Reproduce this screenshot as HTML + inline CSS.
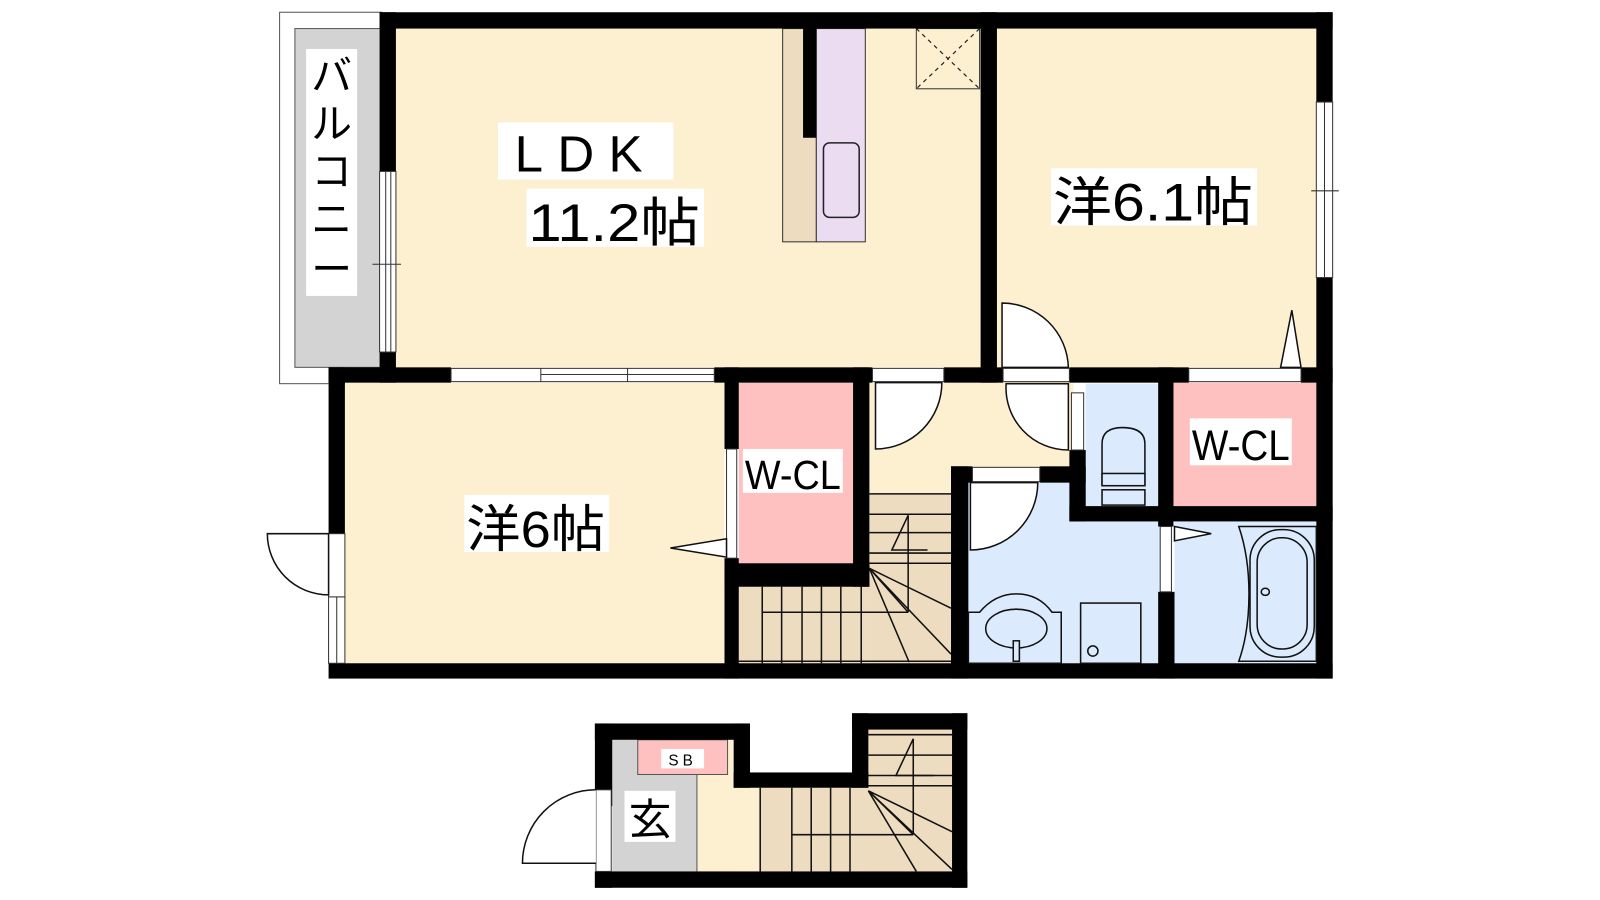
<!DOCTYPE html>
<html><head><meta charset="utf-8"><style>
html,body{margin:0;padding:0;background:#fff;}
svg{display:block;}
text{font-family:"Liberation Sans","Noto Sans CJK JP",sans-serif;}
</style></head><body>
<svg width="1600" height="900" viewBox="0 0 1568 882" xmlns="http://www.w3.org/2000/svg">
<rect x="274" y="12" width="100" height="364" fill="#fff" stroke="#555" stroke-width="1"/>
<rect x="289" y="28" width="85" height="332" fill="#d3d3d3" stroke="#555" stroke-width="1"/>
<rect x="388" y="28" width="573" height="332" fill="#fdf0d0"/>
<rect x="977" y="28" width="313" height="332" fill="#fdf0d0"/>
<rect x="338" y="375" width="372" height="275" fill="#fdf0d0"/>
<rect x="852" y="375" width="196" height="110" fill="#fdf0d0"/>
<rect x="977" y="360" width="75" height="100" fill="#fdf0d0"/>
<rect x="724" y="375" width="112" height="177" fill="#ffc0c0"/>
<rect x="1150" y="375" width="140" height="121" fill="#ffc0c0"/>
<rect x="1064" y="376" width="71" height="120" fill="#dbeafd"/>
<rect x="949" y="473" width="186" height="177" fill="#dbeafd"/>
<rect x="1048" y="511" width="90" height="139" fill="#dbeafd"/>
<rect x="1151" y="511" width="139" height="139" fill="#dbeafd"/>
<rect x="852" y="484" width="80" height="166" fill="#eedcc0"/>
<rect x="724" y="573" width="128" height="77" fill="#eedcc0"/>
<g stroke="#111" stroke-width="1.5" fill="none">
<line x1="852" y1="484" x2="932" y2="484"/>
<line x1="852" y1="504" x2="932" y2="504"/>
<line x1="852" y1="522" x2="932" y2="522"/>
<line x1="852" y1="542" x2="932" y2="542"/>
<line x1="852" y1="552" x2="932" y2="552"/>
<line x1="852" y1="557" x2="932" y2="596"/>
<line x1="852" y1="557" x2="932" y2="641"/>
<line x1="852" y1="557" x2="891" y2="649"/>
<line x1="852" y1="557" x2="890" y2="600"/>
<line x1="890" y1="505" x2="890" y2="600"/>
<line x1="747" y1="600" x2="890" y2="600"/>
<polyline points="890,505 874,539 909,539"/>
<line x1="747" y1="575" x2="747" y2="650"/>
<line x1="766" y1="575" x2="766" y2="650"/>
<line x1="786" y1="575" x2="786" y2="650"/>
<line x1="805" y1="575" x2="805" y2="650"/>
<line x1="824" y1="575" x2="824" y2="650"/>
<line x1="844" y1="575" x2="844" y2="650"/>
<line x1="724" y1="648" x2="932" y2="648"/>
</g>
<rect x="767" y="28" width="33" height="209" fill="#eedcc0" stroke="#333" stroke-width="1"/>
<rect x="800" y="28" width="48" height="209" fill="#ecdcf2" stroke="#333" stroke-width="1"/>
<rect x="807" y="140" width="35" height="73" rx="6" fill="#ecdcf2" stroke="#222" stroke-width="1.5"/>
<rect x="787" y="28" width="13" height="107" fill="#000"/>
<rect x="898" y="28" width="62" height="59" fill="#fdf0d0" stroke="#333" stroke-width="1"/>
<g stroke="#222" stroke-width="1.2" stroke-dasharray="4,4"><line x1="898" y1="28" x2="960" y2="87"/><line x1="960" y1="28" x2="898" y2="87"/></g>
<g fill="#000">
<rect x="372" y="12" width="934" height="16"/>
<rect x="1290" y="12" width="16" height="88"/>
<rect x="1290" y="272" width="16" height="393"/>
<rect x="372" y="12" width="16" height="156"/>
<rect x="372" y="345" width="16" height="30"/>
<rect x="961" y="12" width="16" height="363"/>
<rect x="322" y="360" width="120" height="15"/>
<rect x="700" y="360" width="155" height="15"/>
<rect x="925" y="360" width="58" height="15"/>
<rect x="1048" y="360" width="117" height="15"/>
<rect x="1275" y="360" width="31" height="15"/>
<rect x="322" y="360" width="16" height="163"/>
<rect x="322" y="650" width="984" height="15"/>
<rect x="710" y="360" width="14" height="80"/>
<rect x="710" y="547" width="14" height="118"/>
<rect x="836" y="360" width="16" height="215"/>
<rect x="710" y="552" width="142" height="23"/>
<rect x="932" y="457" width="17" height="208"/>
<rect x="932" y="457" width="21" height="16"/>
<rect x="1019" y="457" width="45" height="16"/>
<rect x="1048" y="441" width="16" height="70"/>
<rect x="1048" y="496" width="258" height="15"/>
<rect x="1135" y="360" width="15" height="156"/>
<rect x="1135" y="580" width="16" height="85"/>
</g>
<g fill="#fff" stroke="#333" stroke-width="1">
<rect x="372" y="168" width="16" height="177"/>
<line x1="378" y1="168" x2="378" y2="345"/><line x1="383" y1="168" x2="383" y2="345"/>
<rect x="1290" y="100" width="16" height="172"/>
<line x1="1298" y1="100" x2="1298" y2="272"/>
<rect x="442" y="361" width="258" height="13"/>
<line x1="530" y1="361" x2="530" y2="374"/><line x1="615" y1="361" x2="615" y2="374"/>
<line x1="530" y1="367" x2="700" y2="367"/>
<rect x="855" y="361" width="70" height="13"/>
<rect x="983" y="361" width="65" height="13"/>
<rect x="1165" y="361" width="110" height="13"/>
<rect x="322" y="523" width="16" height="62"/>
<rect x="322" y="585" width="16" height="65"/>
<line x1="330" y1="585" x2="330" y2="650"/>
<rect x="712" y="440" width="10" height="107"/>
<rect x="1050" y="385" width="12" height="56"/>
<rect x="953" y="458" width="66" height="14"/>
<rect x="1137" y="516" width="11" height="64"/>
</g>
<line x1="365" y1="259" x2="393" y2="259" stroke="#333" stroke-width="1"/>
<line x1="1285" y1="187" x2="1312" y2="187" stroke="#333" stroke-width="1"/>
<g fill="#fff" stroke="#111" stroke-width="1.5">
<path d="M858,375 L923,375 A65,65 0 0 1 858,440 Z"/>
<path d="M982,297 A65,65 0 0 1 1047,360 L982,360 Z"/>
<path d="M986,376 L1047,376 L1047,441 A61,61 0 0 1 986,376 Z"/>
<path d="M951,473 L1017,473 A66,66 0 0 1 951,539 Z"/>
<path d="M322,523 L262,523 A60,60 0 0 0 322,583 Z"/>
<path d="M657,537 L712,528 L712,546 Z"/>
<path d="M1151,516 L1187,523 L1151,530 Z"/>
<path d="M1255,360 L1266,304 L1275,360 Z"/>
</g>
<g fill="#dbeafd" stroke="#111" stroke-width="1.5">
<path d="M949,600 L960,600 Q975,582 996,582 Q1018,582 1031,600 L1040,600 L1040,650 L949,650 Z"/>
<ellipse cx="996" cy="616" rx="30" ry="19"/>
<rect x="993" y="628" width="6" height="20"/>
<rect x="1059" y="591" width="59" height="59" fill="#dbeafd"/>
<circle cx="1071" cy="638" r="5"/>
<path d="M1080,475 L1080,435 Q1080,419 1100,419 Q1122,419 1122,435 L1122,475 Z"/>
<rect x="1080" y="464" width="42" height="12"/>
<rect x="1080" y="480" width="42" height="15"/>
<path d="M1214,516 L1290,516 L1290,648 L1214,648 Q1224,620 1224,582 Q1224,545 1214,516 Z"/>
<rect x="1225" y="519" width="63" height="125" rx="30"/>
<rect x="1232" y="527" width="49" height="109" rx="24"/>
<ellipse cx="1240" cy="580" rx="4" ry="3.5"/>
</g>
<rect x="300" y="48" width="50" height="242" fill="#fff"/>
<g font-size="40" text-anchor="middle" fill="#000">
<text x="325" y="88">バ</text><text x="325" y="135">ル</text><text x="325" y="182">コ</text><text x="325" y="229">ニ</text><text x="325" y="278">ー</text>
</g>
<rect x="488" y="120" width="172" height="56" fill="#fff"/>
<text x="574" y="168" font-size="50" text-anchor="middle" letter-spacing="14">LDK</text>
<rect x="516" y="185" width="174" height="57" fill="#fff"/>
<text x="518" y="236" font-size="52" textLength="168" lengthAdjust="spacingAndGlyphs">11.2帖</text>
<rect x="1030" y="165" width="202" height="56" fill="#fff"/>
<text x="1032" y="216" font-size="52" textLength="196" lengthAdjust="spacingAndGlyphs">洋6.1帖</text>
<rect x="455" y="485" width="142" height="56" fill="#fff"/>
<text x="457" y="536" font-size="50" textLength="136" lengthAdjust="spacingAndGlyphs">洋6帖</text>
<rect x="728" y="440" width="98" height="43" fill="#fff"/>
<text x="730" y="479" font-size="40" textLength="94" lengthAdjust="spacingAndGlyphs">W-CL</text>
<rect x="1166" y="410" width="100" height="46" fill="#fff"/>
<text x="1168" y="451" font-size="42" textLength="96" lengthAdjust="spacingAndGlyphs">W-CL</text>
<rect x="600" y="725" width="83" height="129" fill="#d3d3d3"/>
<rect x="683" y="725" width="36" height="129" fill="#fdf0d0"/>
<rect x="683" y="772" width="62" height="82" fill="#fdf0d0"/>
<line x1="683" y1="759" x2="683" y2="854" stroke="#555" stroke-width="1"/>
<rect x="745" y="772" width="188" height="82" fill="#eedcc0"/>
<rect x="851" y="715" width="82" height="139" fill="#eedcc0"/>
<rect x="625" y="725" width="88" height="34" fill="#ffc0c0" stroke="#555" stroke-width="1"/>
<g stroke="#111" stroke-width="1.5" fill="none">
<line x1="851" y1="720" x2="933" y2="720"/>
<line x1="851" y1="740" x2="933" y2="740"/>
<line x1="851" y1="760" x2="933" y2="760"/>
<line x1="851" y1="770" x2="933" y2="770"/>
<line x1="851" y1="775" x2="933" y2="815"/>
<line x1="851" y1="775" x2="933" y2="852"/>
<line x1="851" y1="775" x2="898" y2="854"/>
<line x1="851" y1="775" x2="895" y2="818"/>
<line x1="895" y1="724" x2="895" y2="818"/>
<line x1="776" y1="818" x2="895" y2="818"/>
<polyline points="895,724 878,760 915,760"/>
<line x1="776" y1="772" x2="776" y2="854"/>
<line x1="795" y1="772" x2="795" y2="854"/>
<line x1="814" y1="772" x2="814" y2="854"/>
<line x1="833" y1="772" x2="833" y2="854"/>
<line x1="745" y1="772" x2="745" y2="854"/>
</g>
<g fill="#000">
<rect x="583" y="709" width="152" height="16"/>
<rect x="583" y="709" width="17" height="81"/>
<rect x="583" y="854" width="365" height="16"/>
<rect x="583" y="854" width="17" height="16"/>
<rect x="719" y="709" width="16" height="63"/>
<rect x="719" y="757" width="132" height="15"/>
<rect x="835" y="699" width="16" height="73"/>
<rect x="835" y="699" width="113" height="16"/>
<rect x="933" y="699" width="15" height="171"/>
</g>
<rect x="584" y="774" width="15" height="80" fill="#fff" stroke="#333" stroke-width="1"/>
<path d="M584,774 A72,72 0 0 0 512,846 L584,846" fill="#fff" stroke="#111" stroke-width="1.5"/>
<rect x="648" y="734" width="42" height="19" fill="#fff"/>
<text x="669" y="750" font-size="15" text-anchor="middle" letter-spacing="4">SB</text>
<rect x="612" y="775" width="50" height="50" fill="#fff"/>
<text x="637" y="818" font-size="42" text-anchor="middle">玄</text>
</svg>
</body></html>
